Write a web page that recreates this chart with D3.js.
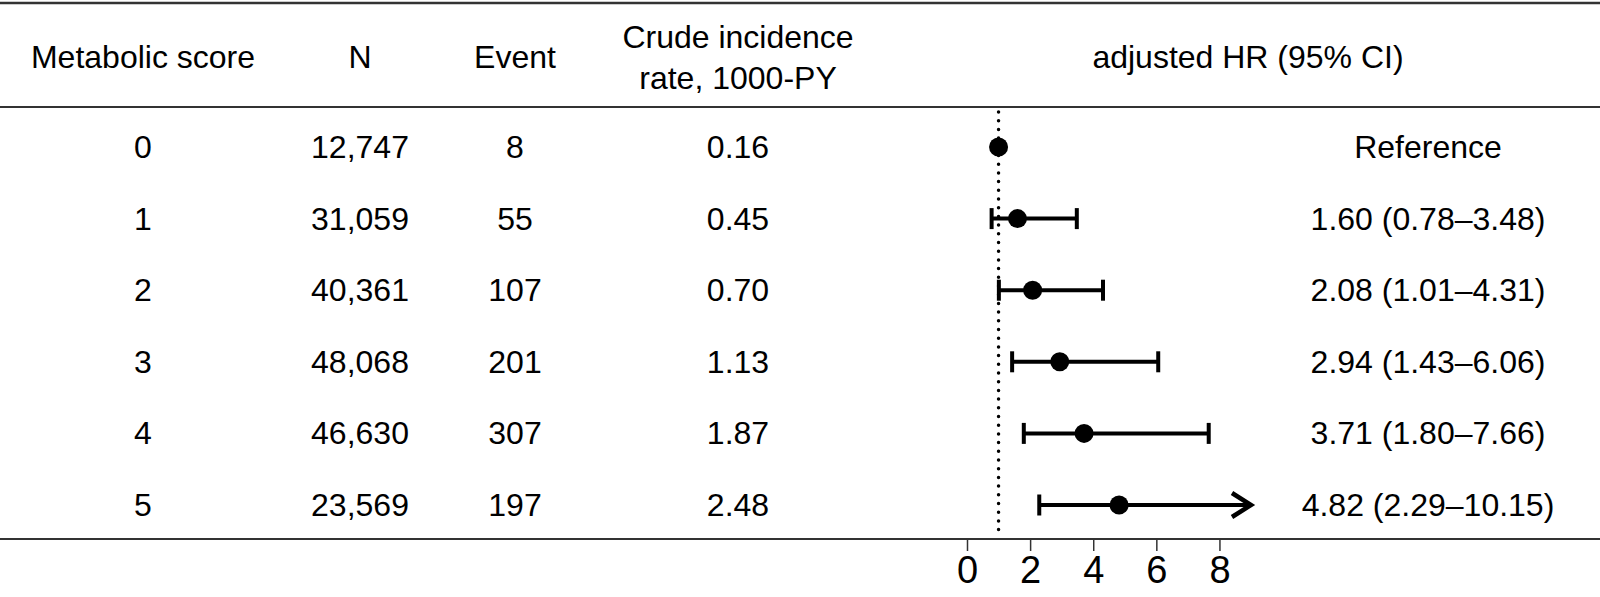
<!DOCTYPE html>
<html>
<head>
<meta charset="utf-8">
<script src="https://cdn.jsdelivr.net/npm/d3@7"></script>
<style>
  body { margin: 0; background: #fff; }
  text { font-family: "Liberation Sans", Arial, sans-serif; fill: #000; }
</style>
</head>
<body>
<svg id="chart"></svg>
<script>
// table columns
let scores = ['0', '1', '2', '3', '4', '5'];
let nValues = ['12,747', '31,059', '40,361', '48,068', '46,630', '23,569'];
let events = ['8', '55', '107', '201', '307', '197'];
let crudeRates = ['0.16', '0.45', '0.70', '1.13', '1.87', '2.48'];
let hrLabels = ['Reference', '1.60 (0.78–3.48)', '2.08 (1.01–4.31)', '2.94 (1.43–6.06)', '3.71 (1.80–7.66)', '4.82 (2.29–10.15)'];

// forest values
let hr = [1, 1.60, 2.08, 2.94, 3.71, 4.82];
let lower = [null, 0.78, 1.01, 1.43, 1.80, 2.29];
let upper = [null, 3.48, 4.31, 6.06, 7.66, 10.15];
let axisTicks = [0, 2, 4, 6, 8];

let width = 1600, height = 597;
let svg = d3.select('#chart').attr('width', width).attr('height', height);

let y = d3.scalePoint().domain(scores).range([147, 505]);
let x = d3.scaleLinear().domain([0, 9]).range([967, 1251]);

let fs = 32;

// horizontal rules
let rules = [3, 107, 539];
svg.selectAll('line.rule')
    .data(rules)
    .join('line')
    .attr('class', 'rule')
    .attr('x1', 0).attr('x2', width)
    .attr('y1', d => d).attr('y2', d => d)
    .attr('stroke', '#333')
    .attr('stroke-width', d => d === 3 ? 2.5 : 2);

// headers
let head = svg.append('g');
head.append('text').attr('x', 143).attr('y', 57).text('Metabolic score');
head.append('text').attr('x', 360).attr('y', 57).text('N');
head.append('text').attr('x', 515).attr('y', 57).text('Event');
head.append('text').attr('x', 738).attr('y', 37).text('Crude incidence');
head.append('text').attr('x', 738).attr('y', 78).text('rate, 1000-PY');
head.append('text').attr('x', 1248).attr('y', 57).text('adjusted HR (95% CI)');
head.selectAll('text')
    .attr('text-anchor', 'middle')
    .attr('dominant-baseline', 'central')
    .attr('font-size', fs);

// table body
let cols = [
    { x: 143, vals: scores },
    { x: 360, vals: nValues },
    { x: 515, vals: events },
    { x: 738, vals: crudeRates },
    { x: 1428, vals: hrLabels }
];
cols.forEach(c => {
    svg.append('g').selectAll('text')
        .data(c.vals)
        .join('text')
        .attr('x', c.x)
        .attr('y', (d, i) => y(scores[i]))
        .attr('text-anchor', 'middle')
        .attr('dominant-baseline', 'central')
        .attr('font-size', fs)
        .text(d => d);
});

// reference line at HR = 1
svg.append('line')
    .attr('x1', x(1)).attr('x2', x(1))
    .attr('y1', 112).attr('y2', 537)
    .attr('stroke', '#000')
    .attr('stroke-width', 3.5)
    .attr('stroke-linecap', 'round')
    .attr('stroke-dasharray', '0,8.7');

// confidence intervals
let xMax = x.domain()[1];
let ci = hr.map((h, i) => ({ score: scores[i], lo: lower[i], hi: upper[i] })).filter(d => d.lo !== null);
let forest = svg.append('g').attr('stroke', '#000').attr('stroke-width', 4);

forest.selectAll('line.ci')
    .data(ci)
    .join('line')
    .attr('class', 'ci')
    .attr('x1', d => x(d.lo))
    .attr('x2', d => x(Math.min(d.hi, xMax)))
    .attr('y1', d => y(d.score)).attr('y2', d => y(d.score));

// lower caps
forest.selectAll('line.lcap')
    .data(ci)
    .join('line')
    .attr('class', 'lcap')
    .attr('x1', d => x(d.lo)).attr('x2', d => x(d.lo))
    .attr('y1', d => y(d.score) - 10.5).attr('y2', d => y(d.score) + 10.5);

// upper caps, or an arrow when the interval runs past the axis
forest.selectAll('line.ucap')
    .data(ci.filter(d => d.hi <= xMax))
    .join('line')
    .attr('class', 'ucap')
    .attr('x1', d => x(d.hi)).attr('x2', d => x(d.hi))
    .attr('y1', d => y(d.score) - 10.5).attr('y2', d => y(d.score) + 10.5);

forest.selectAll('path.arrow')
    .data(ci.filter(d => d.hi > xMax))
    .join('path')
    .attr('class', 'arrow')
    .attr('fill', 'none')
    .attr('stroke-width', 4.5)
    .attr('stroke-linejoin', 'miter')
    .attr('d', d => {
        let tx = x(xMax), ty = y(d.score);
        return `M${tx - 19},${ty - 12}L${tx},${ty}L${tx - 19},${ty + 12}`;
    });

// point estimates
svg.append('g').selectAll('circle')
    .data(hr)
    .join('circle')
    .attr('cx', d => x(d))
    .attr('cy', (d, i) => y(scores[i]))
    .attr('r', 9.5)
    .attr('fill', '#000');

// x axis
let axis = d3.axisBottom(x).tickValues(axisTicks).tickSize(12).tickSizeOuter(0).tickPadding(5);
let ax = svg.append('g').attr('transform', 'translate(0,539)').call(axis);
ax.select('.domain').remove();
ax.selectAll('.tick line').attr('stroke', '#333').attr('stroke-width', 1.5);
ax.selectAll('.tick text')
    .attr('font-size', 38)
    .attr('font-family', '"Liberation Sans", Arial, sans-serif')
    .attr('fill', '#000');
</script>
</body>
</html>
